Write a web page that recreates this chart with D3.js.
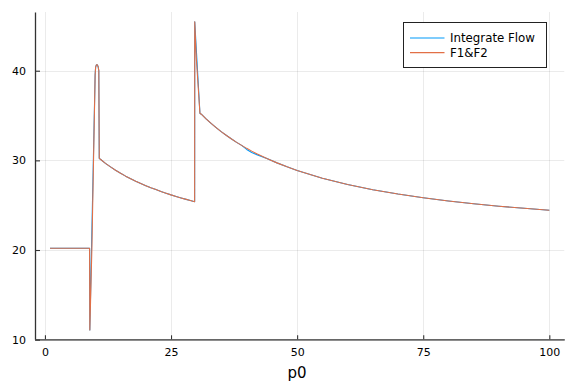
<!DOCTYPE html>
<html><head><meta charset="utf-8">
<script src="https://cdn.jsdelivr.net/npm/d3@7"></script>
<style>body{margin:0;background:#fff}svg{display:block}</style>
</head><body>
<script>
const p0 = [1, 8.85, 8.9, 9.3, 9.95, 10.05, 10.2, 10.4, 10.55, 10.68, 10.77,
  11, 12, 13, 14, 15, 16, 17, 18, 19, 20, 21, 22, 23, 24, 25, 26, 27, 28, 29,
  29.68, 29.7, 30.0, 30.1, 30.73,
  31, 32, 33, 34, 35, 36, 37, 38, 39, 40, 41, 42, 44, 46, 48, 50,
  55, 60, 65, 70, 75, 80, 85, 90, 95, 100];
const f1f2 = [20.2, 20.2, 11.07, 20.0, 39.5, 40.4, 40.65, 40.65, 40.45, 40.0, 30.23,
  30.12, 29.67, 29.27, 28.90, 28.56, 28.24, 27.95, 27.67, 27.42, 27.18, 26.95, 26.74, 26.53, 26.34, 26.15, 25.98, 25.81, 25.65, 25.49,
  25.39, 45.46, 41.5, 40.64, 35.25,
  35.15, 34.60, 34.10, 33.63, 33.18, 32.77, 32.38, 32.01, 31.67, 31.34, 31.03, 30.74, 30.20, 29.72, 29.28, 28.87,
  28.01, 27.31, 26.73, 26.24, 25.83, 25.47, 25.16, 24.89, 24.65, 24.43];
const integrateFlow = [20.2, 20.2, 11.07, 21.9, 39.5, 40.4, 40.65, 40.65, 40.45, 40.0, 30.23,
  30.12, 29.67, 29.27, 28.90, 28.56, 28.24, 27.95, 27.67, 27.42, 27.18, 26.95, 26.74, 26.53, 26.34, 26.15, 25.98, 25.81, 25.65, 25.49,
  25.39, 45.46, 42.49, 41.5, 35.25,
  35.15, 34.60, 34.10, 33.63, 33.18, 32.77, 32.38, 32.01, 31.67, 31.22, 30.88, 30.64, 30.20, 29.72, 29.28, 28.87,
  28.01, 27.31, 26.73, 26.24, 25.83, 25.47, 25.16, 24.89, 24.65, 24.43];
const xTicks = [0, 25, 50, 75, 100];
const yTicks = [10, 20, 30, 40];
const seriesNames = ["Integrate Flow", "F1&F2"];
const seriesColors = ["#009afa", "#e26f46"];

const W = 576, H = 384;
const svg = d3.select("body").append("svg").attr("width", W).attr("height", H);
const x = d3.scaleLinear().domain([-1.97, 102.97]).range([35, 564.3]);
const y = d3.scaleLinear().domain([10.04, 46.55]).range([339.3, 12]);
const font = "DejaVu Sans, sans-serif";

// grid
const g = svg.append("g");
g.selectAll(".gx").data(xTicks).enter().append("line")
  .attr("x1", d => Math.round(x(d)) + 0.5).attr("x2", d => Math.round(x(d)) + 0.5)
  .attr("y1", y.range()[1]).attr("y2", y.range()[0])
  .attr("stroke", "#000").attr("stroke-opacity", 0.08).attr("stroke-width", 1);
g.selectAll(".gy").data(yTicks).enter().append("line")
  .attr("y1", d => Math.round(y(d)) + 0.5).attr("y2", d => Math.round(y(d)) + 0.5)
  .attr("x1", x.range()[0]).attr("x2", x.range()[1])
  .attr("stroke", "#000").attr("stroke-opacity", 0.08).attr("stroke-width", 1);

// series
const line = (ys) => d3.line().x((d, i) => x(p0[i])).y((d, i) => y(ys[i]))(ys);
[integrateFlow, f1f2].forEach((ys, k) => {
  svg.append("path").attr("d", line(ys)).attr("fill", "none")
    .attr("stroke", seriesColors[k]).attr("stroke-width", 1.1).attr("stroke-linejoin", "round");
});

// axes
const xAxis = d3.axisBottom(x).tickValues(xTicks).tickSizeInner(-4).tickSizeOuter(0).tickPadding(9).tickFormat(d3.format("d"));
const yAxis = d3.axisLeft(y).tickValues(yTicks).tickSizeInner(-5).tickSizeOuter(0).tickPadding(9).tickFormat(d3.format("d"));
const gx = svg.append("g").attr("transform", `translate(0,${y.range()[0]})`).call(xAxis);
const gy = svg.append("g").attr("transform", `translate(${x.range()[0]},0)`).call(yAxis);
[gx, gy].forEach(a => {
  a.select(".domain").attr("stroke", "#333").attr("stroke-width", 1.3);
  a.selectAll(".tick line").attr("stroke", "#333").attr("stroke-width", 1.1);
  a.selectAll("text").attr("font-family", font).attr("font-size", 11).attr("fill", "#000");
});

// x label
svg.append("text").attr("x", x(50)).attr("y", 378).attr("text-anchor", "middle")
  .attr("font-family", font).attr("font-size", 15).attr("fill", "#000").text("p0");

// legend
const lg = svg.append("g");
lg.append("rect").attr("x", 403.5).attr("y", 22.5).attr("width", 143).attr("height", 45)
  .attr("fill", "#fff").attr("stroke", "#222").attr("stroke-width", 1);
seriesNames.forEach((n, i) => {
  const yy = 38 + i * 14.6;
  lg.append("line").attr("x1", 410).attr("x2", 444.5).attr("y1", yy).attr("y2", yy)
    .attr("stroke", seriesColors[i]).attr("stroke-width", 1.1);
  lg.append("text").attr("x", 450).attr("y", yy + 4).attr("font-family", font)
    .attr("font-size", 11.8).attr("fill", "#000").text(n);
});
</script>
</body></html>
